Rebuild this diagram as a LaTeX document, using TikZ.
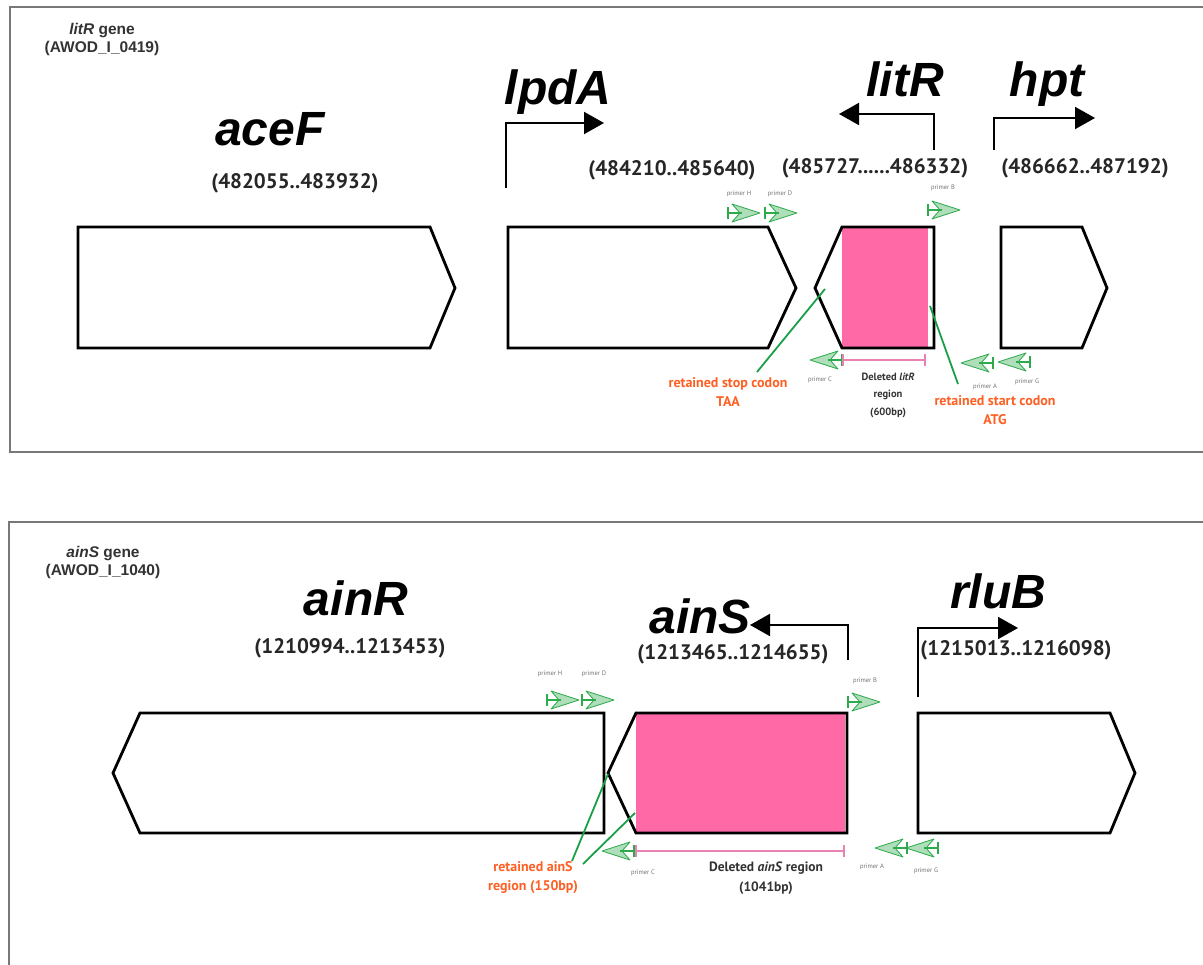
\documentclass[tikz,border=0pt]{standalone}
\usepackage{fontspec}
\setmainfont{PT Sans}
\newfontfamily\arialfont{Liberation Sans}
\usetikzlibrary{arrows.meta}
\definecolor{framegray}{RGB}{120,120,120}
\definecolor{pinkfill}{RGB}{255,105,165}
\definecolor{pinkline}{RGB}{232,130,180}
\definecolor{primgreen}{RGB}{45,170,75}
\definecolor{linegreen}{RGB}{25,160,70}
\definecolor{orangetxt}{RGB}{255,95,35}
\tikzset{
  frame/.style={draw=framegray, line width=2.4pt},
  genebox/.style={draw=black, line width=2.8pt, line join=miter},
  genename/.style={font=\arialfont\bfseries\itshape\fontsize{48}{48}\selectfont, inner sep=0pt, anchor=base},
  coordlbl/.style={font=\bfseries\fontsize{21}{21}\selectfont, text=black!85, inner sep=0pt},
  titlelbl/.style={font=\arialfont\bfseries\fontsize{15.5}{18}\selectfont, text=black!80, align=center, inner sep=0pt},
  primerlbl/.style={font=\fontsize{6.5}{6.5}\selectfont, text=black!55, inner sep=0pt},
  orangelbl/.style={font=\bfseries\fontsize{14}{19}\selectfont, text=orangetxt, align=center, inner sep=0pt},
  dellbl/.style={font=\bfseries\fontsize{10.5}{17.5}\selectfont, text=black!80, align=center, inner sep=0pt},
  dellblbig/.style={font=\bfseries\fontsize{13.5}{20}\selectfont, text=black!80, align=center, inner sep=0pt},
  tss/.style={draw=black, line width=2pt, -{Triangle[length=20pt,width=22pt]}},
  greenline/.style={draw=linegreen, line width=1.8pt},
  delbar/.style={draw=pinkline, line width=1.3pt},
  primerR/.pic={
    \filldraw[draw=primgreen, fill=primgreen!45, fill opacity=0.85, line width=0.8pt, line join=round]
      (4,-9) -- (32,0) -- (4,9) -- (12,0) -- cycle;
    \draw[primgreen, line width=1.6pt] (0,-6) -- (0,6) (0,0) -- (14,0);
  },
  primerL/.pic={
    \filldraw[draw=primgreen, fill=primgreen!45, fill opacity=0.85, line width=0.8pt, line join=round]
      (-4,-9) -- (-32,0) -- (-4,9) -- (-12,0) -- cycle;
    \draw[primgreen, line width=1.6pt] (0,-6) -- (0,6) (0,0) -- (-14,0);
  }
}
\begin{document}
\begin{tikzpicture}[x=1pt,y=-1pt]
\useasboundingbox (0,0) rectangle (1203,965);
\fill[white] (0,0) rectangle (1203,965);

% ---------- frames ----------
\draw[frame] (1204,7) -- (10,7) -- (10,452) -- (1204,452);
\draw[frame] (1204,522) -- (9,522) -- (9,966);

% ================= TOP PANEL =================
\node[titlelbl] (title1) at (102,39) {\textit{litR} gene\\(AWOD\_I\_0419)};

% genes
\draw[genebox, fill=white] (78,227) -- (430,227) -- (455,288) -- (430,348) -- (78,348) -- cycle;
\draw[genebox, fill=white] (508,227) -- (768,227) -- (796,288) -- (768,348) -- (508,348) -- cycle;
\fill[white] (934,227) -- (842,227) -- (815,288) -- (842,348) -- (934,348) -- cycle;
\fill[pinkfill] (842,228) rectangle (928,347);
\draw[genebox] (934,227) -- (842,227) -- (815,288) -- (842,348) -- (934,348) -- cycle;
\draw[genebox, fill=white] (1001,227) -- (1082,227) -- (1107,288) -- (1082,348) -- (1001,348) -- cycle;

% gene names
\node[genename] (aceF) at (270,146) {aceF};
\node[genename] (lpdA) at (558,105) {lpdA};
\node[genename] (litR) at (905,97) {litR};
\node[genename] (hpt) at (1047,97) {hpt};

% transcription arrows
\coordinate (lpdAs) at (506,188);
\coordinate (lpdAt) at (604,123);
\draw[tss] (lpdAs) |- (lpdAt);
\coordinate (litRs) at (934,150);
\coordinate (litRt) at (839,114);
\draw[tss] (litRs) |- (litRt);
\coordinate (hpts) at (994,150);
\coordinate (hptt) at (1095,118);
\draw[tss] (hpts) |- (hptt);

% coordinates
\node[coordlbl] (c1) at (295,183) {(482055..483932)};
\node[coordlbl] (c2) at (672,170) {(484210..485640)};
\node[coordlbl] (c3) at (875,168) {(485727......486332)};
\node[coordlbl] (c4) at (1085,168) {(486662..487192)};

% primers
\pic (pH) at (728,213) {primerR};
\pic (pD) at (765,213) {primerR};
\pic (pB) at (928,210) {primerR};
\pic (pC) at (842,360) {primerL};
\pic (pA) at (993,363) {primerL};
\pic (pG) at (1030,362) {primerL};
\node[primerlbl] (lH) at (739,194) {primer H};
\node[primerlbl] (lD) at (780,194) {primer D};
\node[primerlbl] (lB) at (943,188) {primer B};
\node[primerlbl] (lC) at (820,380) {primer C};
\node[primerlbl] (lA) at (985,387) {primer A};
\node[primerlbl] (lG) at (1027,382) {primer G};

% deleted region
\coordinate (d1a) at (843,360);
\coordinate (d1b) at (925,360);
\draw[delbar] (d1a) -- (d1b);
\draw[delbar] ([yshift=-6pt]d1a) -- ([yshift=6pt]d1a);
\draw[delbar] ([yshift=-6pt]d1b) -- ([yshift=6pt]d1b);
\node[dellbl] (del1) at (888,395) {Deleted \textit{litR}\\region\\(600bp)};

% retained labels
\node[orangelbl] (stoplbl) at (728,392) {retained stop codon\\TAA};
\node[orangelbl] (startlbl) at (995,410) {retained start codon\\ATG};
\coordinate (stopA) at (757,372);
\coordinate (stopB) at (825,289);
\draw[greenline] (stopA) -- (stopB);
\coordinate (startA) at (958,384);
\coordinate (startB) at (930,306);
\draw[greenline] (startA) -- (startB);

% ================= BOTTOM PANEL =================
\node[titlelbl] (title2) at (103,562) {\textit{ainS} gene\\(AWOD\_I\_1040)};

% genes
\draw[genebox, fill=white] (604,713) -- (140,713) -- (113,773) -- (140,833) -- (604,833) -- cycle;
\fill[white] (847,713) -- (636,713) -- (608,773) -- (636,833) -- (847,833) -- cycle;
\fill[pinkfill] (636,714) rectangle (845,832);
\draw[genebox] (847,713) -- (636,713) -- (608,773) -- (636,833) -- (847,833) -- cycle;
\draw[genebox, fill=white] (918,713) -- (1110,713) -- (1135,773) -- (1110,833) -- (918,833) -- cycle;

% gene names
\node[genename] (ainR) at (356,615) {ainR};
\node[genename] (ainS) at (700,633) {ainS};
\node[genename] (rluB) at (998,608) {rluB};

% transcription arrows
\coordinate (ainSs) at (848,660);
\coordinate (ainSt) at (750,625);
\draw[tss] (ainSs) |- (ainSt);
\coordinate (rluBs) at (918,697);
\coordinate (rluBt) at (1018,628);
\draw[tss] (rluBs) |- (rluBt);

% coordinates
\node[coordlbl] (c5) at (350,648) {(1210994..1213453)};
\node[coordlbl] (c6) at (733,654) {(1213465..1214655)};
\node[coordlbl] (c7) at (1016,650) {(1215013..1216098)};

% primers
\pic (qH) at (547,700) {primerR};
\pic (qD) at (582,700) {primerR};
\pic (qB) at (848,702) {primerR};
\pic (qC) at (634,851) {primerL};
\pic (qA) at (907,848) {primerL};
\pic (qG) at (938,848) {primerL};
\node[primerlbl] (mH) at (550,674) {primer H};
\node[primerlbl] (mD) at (594,674) {primer D};
\node[primerlbl] (mB) at (865,681) {primer B};
\node[primerlbl] (mC) at (643,873) {primer C};
\node[primerlbl] (mA) at (872,867) {primer A};
\node[primerlbl] (mG) at (926,871) {primer G};

% deleted region
\coordinate (d2a) at (636,851);
\coordinate (d2b) at (844,851);
\draw[delbar] (d2a) -- (d2b);
\draw[delbar] ([yshift=-6pt]d2a) -- ([yshift=6pt]d2a);
\draw[delbar] ([yshift=-6pt]d2b) -- ([yshift=6pt]d2b);
\node[dellblbig] (del2) at (766,878) {Deleted \textit{ainS} region\\(1041bp)};

% retained label
\node[orangelbl] (retS) at (533,878) {retained ainS\\region (150bp)};
\coordinate (rA1) at (572,861);
\coordinate (rB1) at (608,774);
\draw[greenline] (rA1) -- (rB1);
\coordinate (rA2) at (583,864);
\coordinate (rB2) at (635,813);
\draw[greenline] (rA2) -- (rB2);
\end{tikzpicture}
\end{document}
